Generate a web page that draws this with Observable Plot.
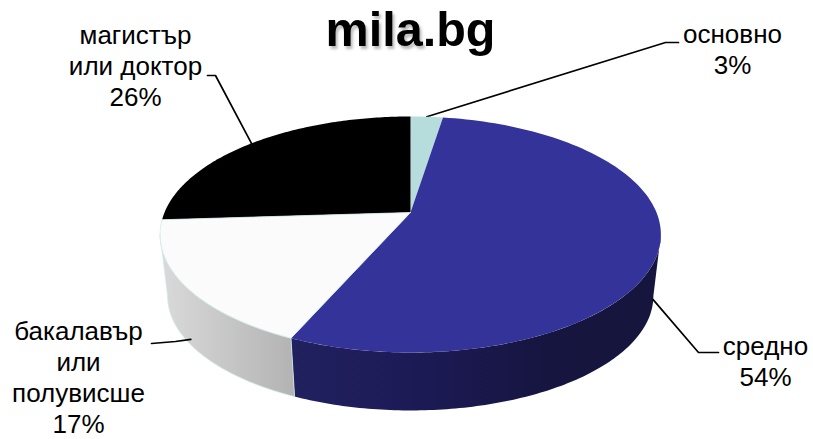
<!DOCTYPE html>
<html>
<head>
<meta charset="utf-8">
<script src="https://cdn.jsdelivr.net/npm/d3@7"></script>
<script src="https://cdn.jsdelivr.net/npm/@observablehq/plot@0.6"></script>
<style>
html,body{margin:0;padding:0;background:#fff;}
svg{display:block;}
</style>
</head>
<body>
<div id="chart"></div>
<script>
// Data, clockwise from 12 o'clock
const categories = ["основно", "средно", "бакалавър\nили\nполувисше", "магистър\nили доктор"];
const shares = [2.5, 54.1, 17.4, 26.0];
const topColors = ["#b7dcdc", "#333399", "#fbfbfb", "#000000"];

// Drawing set-up: chart units are measured from the apex of the pie
const W = 813, H = 439, apexX = 410, apexY = 212;
const pie = {a: 246, b: 113.9, k: 0.1864, scale: 0.97, ellipseCy: 22, depthCy: 83.5};
const font = "Liberation Sans, Arial, sans-serif";

// Perspective projection of the unit circle; turn is a fraction of the circle
const rim = turn => {
  const t = 2 * Math.PI * turn, X = Math.sin(t), Y = -Math.cos(t), d = 1 - pie.k * Y;
  return {x: pie.a * X / d, y: pie.b * Y / d};
};
const lowerRim = p => ({x: pie.scale * p.x, y: pie.depthCy + pie.scale * (p.y - pie.ellipseCy)});
const arc = (t0, t1) => d3.range(0, 121).map(i => rim(t0 + (t1 - t0) * i / 120));

// Slice extents derived from shares
const total = d3.sum(shares);
const cum = d3.cumsum(shares).map(v => v / total);
const slices = categories.map((c, i) => ({
  category: c, color: topColors[i], share: shares[i],
  t0: i ? cum[i - 1] : 0, t1: cum[i], mid: ((i ? cum[i - 1] : 0) + cum[i]) / 2
}));
const topPath = s => [{x: 0, y: 0}, ...arc(s.t0, s.t1), {x: 0, y: 0}];
const wallPath = (t0, t1) => {
  const top = arc(t0, t1);
  const low = top.map(lowerRim).reverse();
  return [...top, ...low, top[0]];
};
const rightEdge = Math.acos(-pie.k) / (2 * Math.PI);
const leftEdge = 1 - rightEdge;

// Leader lines start on the slice's mid-angle; wallShare = how far down the wall
const placement = [
  {wallShare: 0, elbow: [255, -170], end: [268, -170], label: [322, -164]},
  {wallShare: 0.87, elbow: [288, 140], end: [308, 140], label: [355, 148]},
  {wallShare: 0.9, elbow: [-235, 129], end: [-259, 131], label: [-332, 164]},
  {wallShare: 0, elbow: [-195, -137], end: [-203, -137], label: [-275, -147]}
];
const anchor = (s, w) => {
  const p = rim(s.mid), q = lowerRim(p);
  return {x: p.x + (q.x - p.x) * w, y: p.y + (q.y - p.y) * w};
};
const leaders = slices.map((s, i) => {
  const pl = placement[i];
  return [anchor(s, pl.wallShare), {x: pl.elbow[0], y: pl.elbow[1]}, {x: pl.end[0], y: pl.end[1]}];
});
const labels = slices.map((s, i) => ({
  text: `${s.category}\n${Math.round(s.share)}%`,
  x: placement[i].label[0], y: placement[i].label[1]
}));

// Gradients for the shaded wall
const defs = () => {
  const d = d3.create("svg:defs");
  const add = (id, stops) => {
    const g = d.append("linearGradient").attr("id", id).attr("x1", 0).attr("x2", 1).attr("y1", 0).attr("y2", 0);
    stops.forEach(([o, c]) => g.append("stop").attr("offset", o).attr("stop-color", c));
  };
  add("wallBlue", [[0, "#212160"], [0.35, "#1c1a55"], [0.7, "#16153f"], [1, "#15153d"]]);
  add("wallGrey", [[0, "#dadada"], [1, "#b3b3b3"]]);
  return d.node();
};

const poly = (pts, o) => Plot.line(pts, {x: "x", y: "y", curve: "linear", ...o});

const chart = Plot.plot({
  width: W, height: H,
  margin: 0,
  x: {domain: [-apexX, W - apexX], range: [0, W], axis: null},
  y: {domain: [-apexY, H - apexY], range: [0, H], axis: null},
  style: {background: "#fff", fontFamily: font},
  marks: [
    defs,
    poly(wallPath(rightEdge, slices[1].t1), {fill: "url(#wallBlue)", stroke: "none"}),
    poly(wallPath(slices[2].t0, leftEdge), {fill: "url(#wallGrey)", stroke: "#cfe9e9", strokeWidth: 0.8}),
    ...leaders.map(l => poly(l, {stroke: "#000", strokeWidth: 1.7, strokeLinejoin: "round"})),
    poly(topPath(slices[0]), {fill: slices[0].color, stroke: "none"}),
    poly(topPath(slices[1]), {fill: slices[1].color, stroke: "none"}),
    poly(topPath(slices[3]), {fill: slices[3].color, stroke: "none"}),
    poly(topPath(slices[2]), {fill: slices[2].color, stroke: "#cfe9e9", strokeWidth: 0.8}),
    Plot.text(labels, {x: "x", y: "y", text: "text", fontSize: 26, lineHeight: 1.19, fill: "#000", textAnchor: "middle", fontFamily: font}),
    Plot.text(["mila.bg"], {x: [0], y: [-182], text: d => d, fontSize: 48.5, fontWeight: 700, fill: "#000", textAnchor: "middle", fontFamily: font, ariaLabel: "site title"})
  ]
});

// Soft shadow on the first part of the wordmark, as in the reference
const titleNode = Array.from(chart.querySelectorAll("text")).find(t => t.textContent === "mila.bg");
if (titleNode) {
  const tn = titleNode.querySelector("tspan") || titleNode;
  tn.textContent = "";
  const a = document.createElementNS("http://www.w3.org/2000/svg", "tspan");
  a.textContent = "mila";
  a.setAttribute("style", "text-shadow:2px 3px 3px rgba(0,0,0,.28)");
  const b = document.createElementNS("http://www.w3.org/2000/svg", "tspan");
  b.textContent = ".bg";
  tn.append(a, b);
}
document.getElementById("chart").append(chart);
</script>
</body>
</html>
